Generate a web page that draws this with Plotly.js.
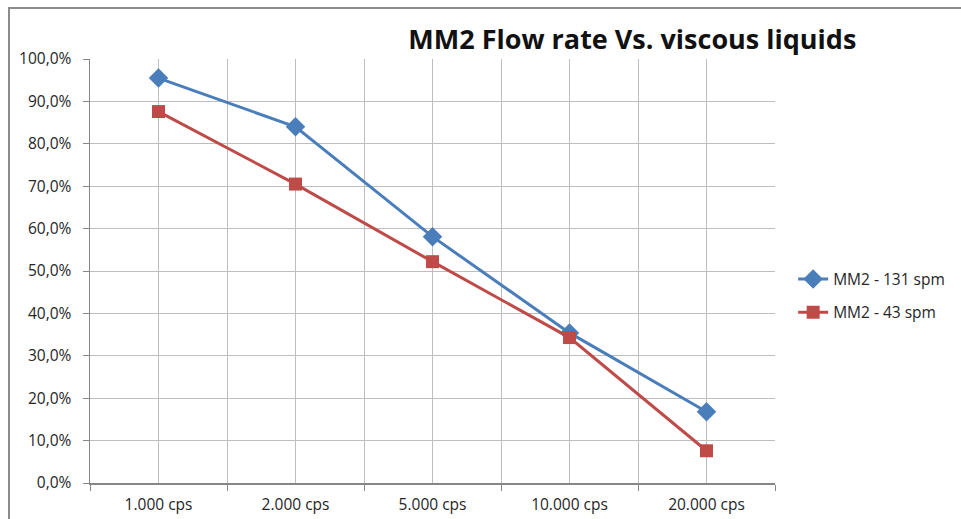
<!DOCTYPE html>
<html>
<head>
<meta charset="utf-8">
<script src="https://cdn.plot.ly/plotly-3.0.1.min.js"></script>
<style>
  html, body { margin: 0; padding: 0; background: #fff; overflow: hidden; }
  #wrap { position: relative; width: 961px; height: 519px; overflow: hidden; }
  #chart { width: 961px; height: 519px; }
  #frame { position: absolute; left: 8px; top: 7px; width: 1000px; height: 1000px;
           border-top: 2px solid #8c8c8c; border-left: 2px solid #8c8c8c; pointer-events: none; }
</style>
</head>
<body>
<div id="wrap">
  <div id="chart"></div>
  <div id="frame"></div>
</div>
<script>
const categories = ['1.000 cps', '2.000 cps', '5.000 cps', '10.000 cps', '20.000 cps'];
const series131 = [95.5, 84.0, 58.1, 35.4, 16.8];
const series43  = [87.6, 70.5, 52.2, 34.3, 7.6];
const seriesNames = ['MM2 - 131 spm', 'MM2 - 43 spm'];
const titleText = 'MM2 Flow rate Vs. viscous liquids';

const FONT = 'Open Sans, Noto Sans, sans-serif';
const gridCol = '#bdbdbd';
const axisCol = '#868686';
const textCol = '#262626';

const traces = [
  {
    x: categories, y: series131, name: seriesNames[0], type: 'scatter', mode: 'lines+markers',
    xaxis: 'x', yaxis: 'y', legendgroup: 'a',
    line: { color: '#4A7EBB', width: 3 },
    marker: { symbol: 'diamond', size: 15, color: '#4A7EBB' }
  },
  {
    x: categories, y: series43, name: seriesNames[1], type: 'scatter', mode: 'lines+markers',
    xaxis: 'x2', yaxis: 'y', legendgroup: 'b',
    line: { color: '#BE4B48', width: 3 },
    marker: { symbol: 'square', size: 13, color: '#BE4B48' }
  }
];

const layout = {
  width: 961, height: 519,
  margin: { l: 90, r: 185, t: 59, b: 36 },
  paper_bgcolor: '#ffffff', plot_bgcolor: '#ffffff',
  separators: ',.',
  font: { family: FONT, size: 15.5, color: textCol },
  title: {
    text: '<b>' + titleText + '</b>',
    font: { family: FONT, size: 27, color: '#111111' },
    xref: 'container', yref: 'container',
    x: 0.658, xanchor: 'center', y: 0.923, yanchor: 'middle'
  },
  showlegend: true,
  legend: {
    x: 1.025, xanchor: 'left', y: 0.441, yanchor: 'middle',
    font: { family: FONT, size: 15.5, color: textCol },
    tracegroupgap: 10, traceorder: 'grouped', bgcolor: 'rgba(0,0,0,0)'
  },
  xaxis: {
    type: 'category', categoryarray: categories, categoryorder: 'array',
    range: [-0.5, 4.5], fixedrange: true,
    tickson: 'boundaries', ticks: 'outside', ticklen: 6, tickcolor: axisCol, tickwidth: 1,
    showgrid: true, gridcolor: gridCol, gridwidth: 1,
    showline: true, linecolor: axisCol, linewidth: 1.5,
    ticklabelstandoff: 7,
    zeroline: false
  },
  xaxis2: {
    type: 'category', categoryarray: categories, categoryorder: 'array',
    overlaying: 'x', range: [-0.5, 4.5], fixedrange: true,
    showgrid: true, gridcolor: gridCol, gridwidth: 1,
    showticklabels: false, ticks: '', showline: false, zeroline: false
  },
  yaxis: {
    range: [0, 100], dtick: 10, tick0: 0, fixedrange: true,
    tickformat: '.1f', ticksuffix: '%',
    ticks: 'outside', ticklen: 6, tickcolor: axisCol,
    showgrid: true, gridcolor: gridCol, gridwidth: 1,
    showline: true, linecolor: axisCol, linewidth: 1.5,
    zeroline: false, ticklabelstandoff: 8
  }
};

Plotly.newPlot('chart', traces, layout, { displayModeBar: false, staticPlot: true });
</script>
</body>
</html>
